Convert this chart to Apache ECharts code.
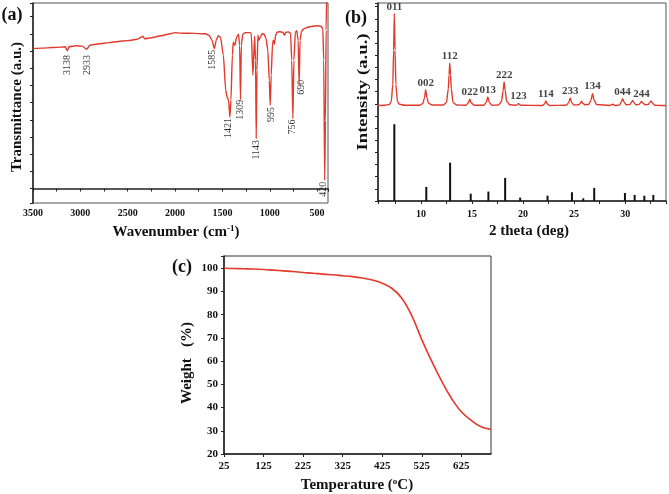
<!DOCTYPE html>
<html><head><meta charset="utf-8">
<script src="https://cdn.jsdelivr.net/npm/echarts@6/dist/echarts.min.js"></script>
<style>html,body{margin:0;padding:0;background:#fff}#c{width:669px;height:494px}</style>
</head><body><div id="c"></div>
<script>
const FONT = '"Liberation Serif","Times New Roman",serif';
const RED = '#e23a2c';

// ---------- (a) FTIR ----------
const ftirWavenumber = [3500,3400,3300,3200,3160,3138,3120,3050,2980,2933,2900,2800,2700,2600,2500,2400,2360,2340,2320,2250,2150,2050,2000,1950,1850,1750,1680,1640,1610,1585,1565,1545,1520,1490,1465,1450,1435,1421,1410,1395,1385,1370,1350,1330,1318,1309,1300,1285,1260,1220,1195,1178,1160,1150,1143,1135,1125,1115,1100,1080,1060,1040,1020,1005,995,985,970,960,950,940,925,900,860,845,830,800,780,768,756,745,730,715,700,690,680,665,640,600,550,500,460,440,430,420,412,405,398];
const ftirTransmittance = [4.070,4.084,4.099,4.113,4.122,4.006,4.122,4.151,4.142,4.049,4.166,4.209,4.244,4.276,4.302,4.340,4.398,4.427,4.355,4.384,4.442,4.500,4.535,4.520,4.515,4.506,4.500,4.456,4.311,4.070,4.311,4.442,4.398,3.875,2.858,2.654,2.567,2.081,2.567,3.875,4.253,4.166,4.398,4.486,4.166,2.587,4.166,4.486,4.535,4.535,4.515,3.294,4.427,3.730,1.453,3.439,4.456,4.311,4.398,4.500,4.486,4.369,4.020,3.148,2.422,3.294,4.253,4.311,4.195,4.427,4.544,4.558,4.544,4.456,4.544,4.552,4.515,3.730,2.035,3.730,4.544,4.587,4.311,3.003,4.311,4.573,4.645,4.689,4.718,4.733,4.718,4.660,3.730,0.241,1.985,4.602,5.765];
const ftirPeakNames = ['3138','2933','1585','1421','1309','1143','995','756','690','420'];
const ftirLabelWavenumber = [3133,2922,1601,1431,1304,1135,977,755,660,427];
const ftirLabelTop = [3.87,3.87,4.02,2.04,2.57,1.40,2.36,1.99,3.15,0.18];
const ftirTickStep = 500;

// ---------- (b) XRD ----------
const xrdTheta = [5.7,6.5,6.9,7.1,7.25,7.33,7.4,7.47,7.55,7.7,7.9,8.4,9.9,10.2,10.35,10.47,10.59,10.75,11.1,12.2,12.5,12.68,12.76,12.83,12.9,12.98,13.15,13.5,14.4,14.65,14.79,14.93,15.2,16.15,16.4,16.55,16.7,16.95,17.6,17.9,18.05,18.15,18.25,18.4,18.7,19.3,19.55,19.8,21.9,22.1,22.24,22.38,22.6,24.25,24.47,24.62,24.77,25.0,25.45,25.6,25.73,25.86,26.05,26.45,26.65,26.81,26.96,27.2,28.5,28.77,29.0,29.45,29.62,29.75,29.88,30.1,30.45,30.6,30.73,30.86,31.05,31.35,31.5,31.6,31.72,31.95,32.25,32.4,32.53,32.66,32.9,33.5,34];
const xrdIntensity = [3.93,3.94,3.97,4.1,4.8,6.2,7.71,6.2,4.8,4.1,3.98,3.94,3.94,4.02,4.25,4.58,4.25,4.02,3.95,3.95,4.05,4.6,5.2,5.68,5.2,4.6,4.05,3.95,3.94,4.04,4.19,4.04,3.94,3.94,4.06,4.28,4.06,3.94,3.95,4.1,4.55,4.90,4.55,4.1,3.96,3.94,4.01,3.94,3.93,3.99,4.12,3.99,3.93,3.94,4.05,4.24,4.05,3.95,3.96,4.02,4.11,4.02,3.96,3.98,4.15,4.42,4.15,3.97,3.93,3.98,3.93,3.95,4.08,4.21,4.08,3.96,3.97,4.05,4.14,4.05,3.96,3.97,4.04,4.10,4.04,3.96,3.97,4.05,4.12,4.04,3.94,3.93,3.93];
const xrdHkl = ['011','002','112','022','013','222','123','114','233','134','044','244'];
const xrdHklTheta = [7.4,10.47,12.83,14.79,16.55,18.15,19.55,22.24,24.62,26.81,29.75,31.6];
const xrdHklTop = [7.71,4.58,5.68,4.19,4.28,4.90,4.01,4.12,4.24,4.42,4.21,4.10];
const refTheta = [7.4,10.53,12.86,14.88,16.61,18.25,19.72,22.4,24.79,25.9,26.97,29.98,30.93,31.88,32.76];
const refIntensity = [3.16,0.58,1.58,0.30,0.39,0.95,0.14,0.22,0.36,0.11,0.54,0.33,0.25,0.22,0.25];
const xrdTickStep = 5;

// ---------- (c) TGA ----------
const tgaTemp = [25,50,75,100,125,150,175,200,225,250,275,300,325,350,375,400,425,450,475,500,525,550,575,600,625,650,675,700];
const tgaWeight = [100,99.9,99.8,99.7,99.5,99.2,98.9,98.6,98.2,97.9,97.5,97.2,96.8,96.4,95.8,95.0,93.6,91.3,87.0,79.5,69.3,60.0,51.5,44.0,38.2,34.5,31.7,30.6];

const axisLine = {show:true, lineStyle:{color:'#222', width:1.5}};
const tick = {show:true, inside:false, length:3, lineStyle:{color:'#222', width:1}};
const lbl = (extra) => Object.assign({fontFamily:FONT, fontWeight:'bold', fontSize:10, color:'#111'}, extra||{});
const isMult = (v, s) => Math.abs(v/s - Math.round(v/s)) < 1e-6;

const chart = echarts.init(document.getElementById('c'), null, {renderer:'canvas'});
chart.setOption({
  animation:false,
  backgroundColor:'#fff',
  grid:[
    {left:33, top:3, width:295, height:200, show:true, borderColor:'#555', borderWidth:1, containLabel:false},
    {left:378, top:3, width:288, height:198, show:true, borderColor:'#555', borderWidth:1, containLabel:false},
    {left:224, top:256, width:267, height:198, show:true, borderColor:'#333', borderWidth:1, containLabel:false}
  ],
  xAxis:[
    {gridIndex:0, type:'value', min:385, max:3500, inverse:true, minInterval:250, maxInterval:250,
     axisLine, axisTick:tick, splitLine:{show:false},
     axisLabel:lbl({margin:5, fontSize:10, formatter:v => isMult(v, ftirTickStep) ? String(v) : ''})},
    {gridIndex:1, type:'value', min:5.8, max:34, minInterval:2.5, maxInterval:2.5,
     axisLine, axisTick:tick, splitLine:{show:false},
     axisLabel:lbl({margin:8, fontSize:10, formatter:v => isMult(v, xrdTickStep) ? String(v) : ''})},
    {gridIndex:2, type:'value', min:25, max:700, interval:100,
     axisLine, axisTick:tick, splitLine:{show:false},
     axisLabel:lbl({margin:7, fontSize:11, showMaxLabel:false, formatter:v => isMult(v-25, 100) ? String(v) : ''})}
  ],
  yAxis:[
    {gridIndex:0, type:'value', min:-0.42, max:5.395, minInterval:0.5, maxInterval:0.5,
     axisLine, axisTick:tick, splitLine:{show:false}, axisLabel:{show:false}},
    {gridIndex:1, type:'value', min:0, max:8.15, interval:0.5,
     axisLine, axisTick:tick, splitLine:{show:false}, axisLabel:{show:false}},
    {gridIndex:2, type:'value', min:20, max:105.3, interval:10,
     axisLine, axisTick:tick, splitLine:{show:false},
     axisLabel:lbl({margin:6, fontSize:11, formatter:v => isMult(v, 10) ? String(v) : ''})}
  ],
  series:[
    {type:'line', xAxisIndex:0, yAxisIndex:0, data:ftirWavenumber.map((w,i)=>[w, ftirTransmittance[i]]),
     showSymbol:false, smooth:0.2, smoothMonotone:'x', clip:true, lineStyle:{color:RED, width:1.4}, silent:true},
    {type:'scatter', xAxisIndex:0, yAxisIndex:0, symbolSize:1, itemStyle:{color:'rgba(0,0,0,0)'}, silent:true,
     data:ftirPeakNames.map((n,i)=>({name:n, value:[ftirLabelWavenumber[i], ftirLabelTop[i]]})),
     label:{show:true, formatter:'{b}', position:[0,0], rotate:90, align:'right', verticalAlign:'middle',
            fontFamily:FONT, fontSize:10, color:'#000'}},
    {type:'line', xAxisIndex:1, yAxisIndex:1, data:xrdTheta.map((t,i)=>[t, xrdIntensity[i]]),
     showSymbol:false, smooth:0.25, smoothMonotone:'x', lineStyle:{color:RED, width:1.4}, silent:true},
    {type:'bar', xAxisIndex:1, yAxisIndex:1, barWidth:2, data:refTheta.map((t,i)=>[t, refIntensity[i]]),
     itemStyle:{color:'#111'}, silent:true},
    {type:'scatter', xAxisIndex:1, yAxisIndex:1, symbolSize:1, itemStyle:{color:'rgba(0,0,0,0)'}, silent:true,
     data:xrdHkl.map((n,i)=>({name:n, value:[xrdHklTheta[i], xrdHklTop[i]]})),
     label:{show:true, formatter:'{b}', position:'top', distance:1,
            fontFamily:FONT, fontWeight:'bold', fontSize:11, color:'#111'}},
    {type:'line', xAxisIndex:2, yAxisIndex:2, data:tgaTemp.map((t,i)=>[t, tgaWeight[i]]),
     showSymbol:false, smooth:0.4, lineStyle:{color:RED, width:1.6}, silent:true}
  ],
  graphic:[
    {type:'text', x:12, y:15, style:{text:'(a)', font:'bold 18px '+FONT, fill:'#111', align:'center', verticalAlign:'middle'}},
    {type:'text', x:356, y:18, style:{text:'(b)', font:'bold 18px '+FONT, fill:'#111', align:'center', verticalAlign:'middle'}},
    {type:'text', x:182, y:267, style:{text:'(c)', font:'bold 18px '+FONT, fill:'#111', align:'center', verticalAlign:'middle'}},
    {type:'text', x:17, y:107, rotation:Math.PI/2, style:{text:'Transmittance (a.u.)', font:'bold 15px '+FONT, fill:'#111', align:'center', verticalAlign:'middle'}},
    {type:'text', x:176, y:232, style:{text:'{a|Wavenumber (cm}{s|-1}{a|)}', align:'center', verticalAlign:'middle', fill:'#111',
       rich:{a:{fontFamily:FONT, fontWeight:'bold', fontSize:15, fill:'#111'}, s:{fontFamily:FONT, fontWeight:'bold', fontSize:9, verticalAlign:'top', fill:'#111'}}}},
    {type:'text', x:363, y:92, rotation:Math.PI/2, scaleX:1.25, style:{text:'Intensity (a.u.)', font:'bold 15px '+FONT, fill:'#111', align:'center', verticalAlign:'middle'}},
    {type:'text', x:529, y:231, style:{text:'2 theta (deg)', font:'bold 15px '+FONT, fill:'#111', align:'center', verticalAlign:'middle'}},
    {type:'text', x:187, y:363, rotation:Math.PI/2, style:{text:'Weight   (%)', font:'bold 15px '+FONT, fill:'#111', align:'center', verticalAlign:'middle'}},
    {type:'text', x:357, y:485, style:{text:'{a|Temperature (}{s|o}{a|C)}', align:'center', verticalAlign:'middle', fill:'#111',
       rich:{a:{fontFamily:FONT, fontWeight:'bold', fontSize:15, fill:'#111'}, s:{fontFamily:FONT, fontWeight:'bold', fontSize:9, verticalAlign:'top', fill:'#111'}}}}
  ]
});
</script></body></html>
